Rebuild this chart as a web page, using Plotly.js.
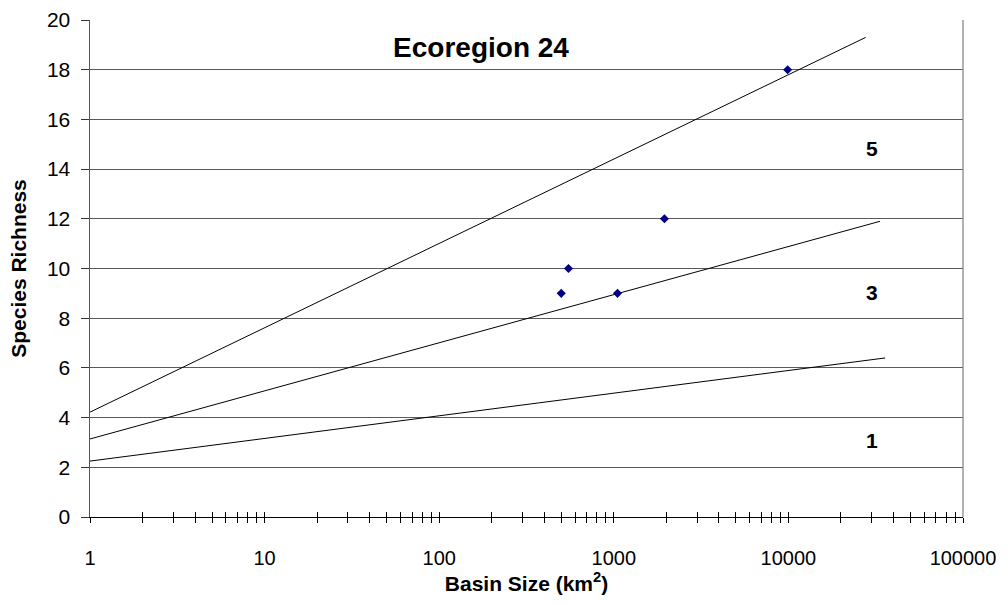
<!DOCTYPE html>
<html>
<head>
<meta charset="utf-8">
<script src="https://cdn.plot.ly/plotly-3.0.1.min.js"></script>
<style>html,body{margin:0;padding:0;background:#fff}#chart{width:1008px;height:605px}</style>
</head>
<body>
<div id="chart"></div>
<script>
// Observed points
var basinSize = [500, 550, 1050, 1950, 9900];
var richness  = [9, 10, 9, 12, 18];

// Trend lines (endpoints on log-x)
var line5X = [1, 27700];
var line5Y = [4.22, 19.3];
var line3X = [1, 33500];
var line3Y = [3.14, 11.9];
var line1X = [1, 35800];
var line1Y = [2.25, 6.4];

// Line labels
var labelText = ['5', '3', '1'];
var labelX = [30100, 30100, 30100];
var labelY = [14.73, 8.93, 2.98];

// Axis ticks
var yTicks = [0, 2, 4, 6, 8, 10, 12, 14, 16, 18, 20];
var xDecades = [1, 10, 100, 1000, 10000, 100000];
var xDecadeText = ['1', '10', '100', '1000', '10000', '100000'];

var FONT = 'Liberation Sans, Arial, sans-serif';

var xTickVals = [], xTickText = [];
for (var d = 0; d < xDecades.length; d++) {
  for (var m = 1; m <= 9; m++) {
    if (d === xDecades.length - 1 && m > 1) break;
    xTickVals.push(xDecades[d] * m);
    xTickText.push(m === 1 ? xDecadeText[d] : '');
  }
}

var lineStyle = {color: '#000', width: 1};
var traces = [
  {x: line5X, y: line5Y, mode: 'lines', line: lineStyle, hoverinfo: 'skip'},
  {x: line3X, y: line3Y, mode: 'lines', line: lineStyle, hoverinfo: 'skip'},
  {x: line1X, y: line1Y, mode: 'lines', line: lineStyle, hoverinfo: 'skip'},
  {x: basinSize, y: richness, mode: 'markers',
   marker: {symbol: 'diamond', size: 7, color: '#000080'}},
  {x: labelX, y: labelY, mode: 'text', text: labelText,
   textfont: {family: FONT, size: 21, color: '#000', weight: 'bold'},
   texttemplate: '<b>%{text}</b>', hoverinfo: 'skip'},
  {x: [1], y: [-5], xaxis: 'x2', mode: 'markers', marker: {opacity: 0}, hoverinfo: 'skip'}
];

var layout = {
  width: 1008, height: 605,
  margin: {l: 90, r: 45, t: 20, b: 88},
  paper_bgcolor: '#fff', plot_bgcolor: '#fff',
  showlegend: false,
  font: {family: FONT, size: 20, color: '#000'},
  title: {text: '<b>Ecoregion 24</b>', x: 481 / 1008, y: 1 - 47 / 605,
          xanchor: 'center', yanchor: 'middle',
          font: {family: FONT, size: 28, color: '#000'}},
  xaxis: {
    type: 'log', range: [0, 5],
    tickvals: xTickVals, ticktext: xTickText, tickangle: 0,
    ticks: 'outside', ticklen: 5, tickcolor: '#000', tickwidth: 1,
    ticklabelstandoff: 18,
    showgrid: false, zeroline: false,
    showline: true, linecolor: '#000', linewidth: 1,
    tickfont: {family: FONT, size: 20, color: '#000'},
    title: {text: '<b>Basin Size (km<sup>2</sup>)</b>', standoff: 8,
            font: {family: FONT, size: 21, color: '#000'}}
  },
  xaxis2: {
    type: 'log', range: [0, 5], overlaying: 'x', anchor: 'y', side: 'bottom',
    tickvals: xTickVals,
    showticklabels: false,
    ticks: 'inside', ticklen: 5, tickcolor: '#000', tickwidth: 1,
    showgrid: false, zeroline: false, showline: false
  },
  yaxis: {
    range: [0, 20], tickvals: yTicks,
    ticks: 'outside', ticklen: 8, tickcolor: '#333', tickwidth: 1,
    ticklabelstandoff: 6,
    showgrid: true, gridcolor: '#5a5a5a', gridwidth: 1,
    zeroline: false,
    showline: true, linecolor: '#555', linewidth: 1.5,
    tickfont: {family: FONT, size: 21, color: '#000'},
    title: {text: '<b>Species Richness</b>', standoff: 14,
            font: {family: FONT, size: 21, color: '#000'}}
  },
  shapes: [
    {type: 'line', xref: 'paper', yref: 'paper', x0: 1, x1: 1, y0: 0, y1: 1,
     line: {color: '#888', width: 1.3}}
  ]
};

Plotly.newPlot('chart', traces, layout, {staticPlot: true});
</script>
</body>
</html>
